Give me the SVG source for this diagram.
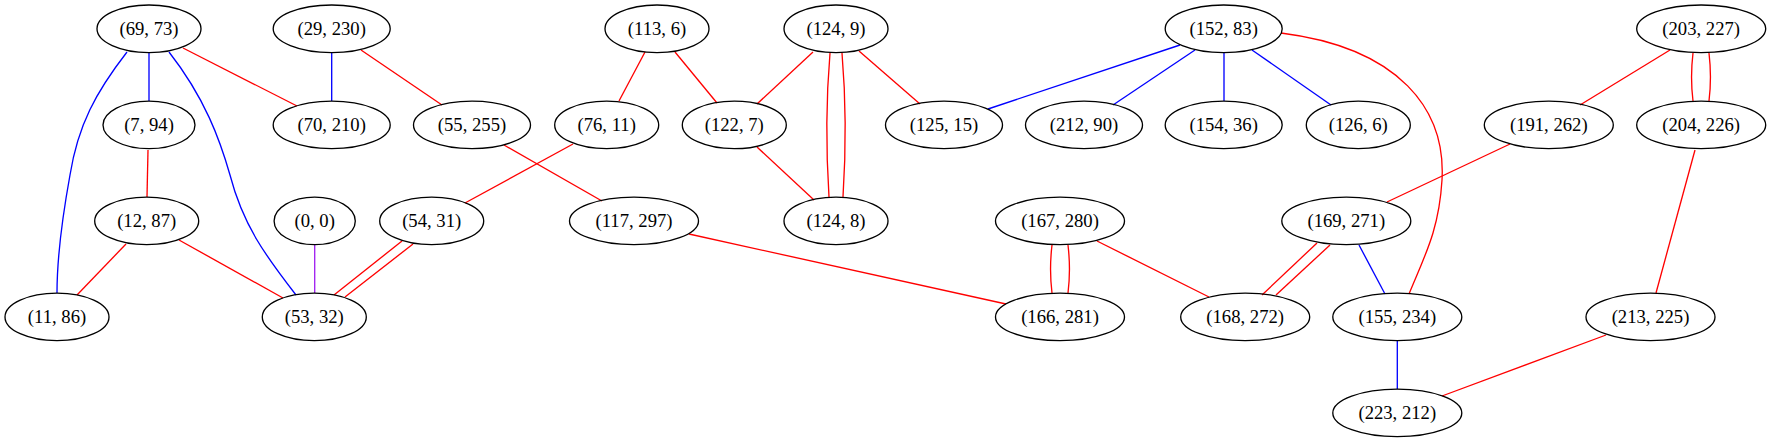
<svg xmlns="http://www.w3.org/2000/svg" width="1771" height="443" viewBox="0 0 1771 443">
<style>
.n ellipse{fill:none;stroke:#000;stroke-width:1.33}
.n text{font-family:"Liberation Serif","Times New Roman",serif;font-size:18.67px;text-anchor:middle;fill:#000}
#edges path{fill:none;stroke-width:1.33}
.r{stroke:#ff0000}.b{stroke:#0000ff}.p{stroke:#a020f0}
</style>
<rect width="1771" height="443" fill="#fff"/>
<g id="edges">
<path class="b" d="M127,52 C96,92 78,125 70,175 C60,230 57,265 57,293"/>
<path class="b" d="M149,53 L149,101"/>
<path class="b" d="M169,52 C205,98 220,140 230,175 C243,225 265,255 296,295"/>
<path class="r" d="M183,48 L297,106"/>
<path class="b" d="M331.7,53 L331.7,101"/>
<path class="r" d="M361,50 L442,105"/>
<path class="r" d="M148,150 L147,197"/>
<path class="r" d="M126,244 L77,295"/>
<path class="r" d="M179,240 L283,298"/>
<path class="p" d="M314.7,245 L314.7,293"/>
<path class="r" d="M573,144 L465,203"/>
<path class="r" d="M402,241 L334,295"/>
<path class="r" d="M413,244 L345,297"/>
<path class="r" d="M504,145 L602,201"/>
<path class="r" d="M645,52 L619,101"/>
<path class="r" d="M675,52 L717,103"/>
<path class="r" d="M813,52 L757,104"/>
<path class="r" d="M830,53 C826,100 826,150 829,197"/>
<path class="r" d="M842,53 C846,100 846,150 843,197"/>
<path class="r" d="M859,51 L920,104"/>
<path class="r" d="M757,147 L814,200"/>
<path class="r" d="M689,234 L1006,304"/>
<path class="b" d="M1180,45 L988,109"/>
<path class="b" d="M1195,50 L1113,105"/>
<path class="b" d="M1224,53 L1224,101"/>
<path class="b" d="M1252,50 L1331,105"/>
<path class="r" d="M1281,33 C1400,48 1446,110 1442,180 C1439,230 1425,255 1409,294"/>
<path class="r" d="M1052,245 C1050,262 1050,277 1052,293"/>
<path class="r" d="M1068,245 C1070,262 1070,277 1068,293"/>
<path class="r" d="M1097,241 L1209,297"/>
<path class="r" d="M1670,50 L1580,105"/>
<path class="r" d="M1693,53 C1691,70 1691,85 1693,101"/>
<path class="r" d="M1709,53 C1711,70 1711,85 1709,101"/>
<path class="r" d="M1510,144 L1387,202"/>
<path class="r" d="M1317,243 L1262,295"/>
<path class="r" d="M1330,245 L1276,295"/>
<path class="b" d="M1359,245 L1385,294"/>
<path class="r" d="M1695,150 L1656,293"/>
<path class="b" d="M1397.3,341 L1397.3,389"/>
<path class="r" d="M1606,335 L1442,396"/>
</g>
<g id="n69_73" class="n"><ellipse cx="149" cy="28.8" rx="52" ry="23.8"/><text x="149" y="35">(69, 73)</text></g>
<g id="n29_230" class="n"><ellipse cx="331.7" cy="28.8" rx="58.5" ry="23.8"/><text x="331.7" y="35">(29, 230)</text></g>
<g id="n113_6" class="n"><ellipse cx="657" cy="28.8" rx="52" ry="23.8"/><text x="657" y="35">(113, 6)</text></g>
<g id="n124_9" class="n"><ellipse cx="836" cy="28.8" rx="52" ry="23.8"/><text x="836" y="35">(124, 9)</text></g>
<g id="n152_83" class="n"><ellipse cx="1223.7" cy="28.8" rx="58.5" ry="23.8"/><text x="1223.7" y="35">(152, 83)</text></g>
<g id="n203_227" class="n"><ellipse cx="1701.2" cy="28.8" rx="64.5" ry="23.8"/><text x="1701.2" y="35">(203, 227)</text></g>
<g id="n7_94" class="n"><ellipse cx="149" cy="124.9" rx="46" ry="23.8"/><text x="149" y="131">(7, 94)</text></g>
<g id="n70_210" class="n"><ellipse cx="331.7" cy="124.9" rx="58.5" ry="23.8"/><text x="331.7" y="131">(70, 210)</text></g>
<g id="n55_255" class="n"><ellipse cx="472" cy="124.9" rx="58.5" ry="23.8"/><text x="472" y="131">(55, 255)</text></g>
<g id="n76_11" class="n"><ellipse cx="606.7" cy="124.9" rx="52" ry="23.8"/><text x="606.7" y="131">(76, 11)</text></g>
<g id="n122_7" class="n"><ellipse cx="734.3" cy="124.9" rx="52" ry="23.8"/><text x="734.3" y="131">(122, 7)</text></g>
<g id="n125_15" class="n"><ellipse cx="944" cy="124.9" rx="58.5" ry="23.8"/><text x="944" y="131">(125, 15)</text></g>
<g id="n212_90" class="n"><ellipse cx="1084" cy="124.9" rx="58.5" ry="23.8"/><text x="1084" y="131">(212, 90)</text></g>
<g id="n154_36" class="n"><ellipse cx="1223.7" cy="124.9" rx="58.5" ry="23.8"/><text x="1223.7" y="131">(154, 36)</text></g>
<g id="n126_6" class="n"><ellipse cx="1358.3" cy="124.9" rx="52" ry="23.8"/><text x="1358.3" y="131">(126, 6)</text></g>
<g id="n191_262" class="n"><ellipse cx="1548.8" cy="124.9" rx="64.5" ry="23.8"/><text x="1548.8" y="131">(191, 262)</text></g>
<g id="n204_226" class="n"><ellipse cx="1701.2" cy="124.9" rx="64.5" ry="23.8"/><text x="1701.2" y="131">(204, 226)</text></g>
<g id="n12_87" class="n"><ellipse cx="146.7" cy="220.9" rx="52" ry="23.8"/><text x="146.7" y="227">(12, 87)</text></g>
<g id="n0_0" class="n"><ellipse cx="314.7" cy="220.9" rx="40.6" ry="23.8"/><text x="314.7" y="227">(0, 0)</text></g>
<g id="n54_31" class="n"><ellipse cx="431.7" cy="220.9" rx="52" ry="23.8"/><text x="431.7" y="227">(54, 31)</text></g>
<g id="n117_297" class="n"><ellipse cx="634" cy="220.9" rx="64.5" ry="23.8"/><text x="634" y="227">(117, 297)</text></g>
<g id="n124_8" class="n"><ellipse cx="836" cy="220.9" rx="52" ry="23.8"/><text x="836" y="227">(124, 8)</text></g>
<g id="n167_280" class="n"><ellipse cx="1060" cy="220.9" rx="64.5" ry="23.8"/><text x="1060" y="227">(167, 280)</text></g>
<g id="n169_271" class="n"><ellipse cx="1346.3" cy="220.9" rx="64.5" ry="23.8"/><text x="1346.3" y="227">(169, 271)</text></g>
<g id="n11_86" class="n"><ellipse cx="57" cy="316.9" rx="52" ry="23.8"/><text x="57" y="323">(11, 86)</text></g>
<g id="n53_32" class="n"><ellipse cx="314.3" cy="316.9" rx="52" ry="23.8"/><text x="314.3" y="323">(53, 32)</text></g>
<g id="n166_281" class="n"><ellipse cx="1060" cy="316.9" rx="64.5" ry="23.8"/><text x="1060" y="323">(166, 281)</text></g>
<g id="n168_272" class="n"><ellipse cx="1245.2" cy="316.9" rx="64.5" ry="23.8"/><text x="1245.2" y="323">(168, 272)</text></g>
<g id="n155_234" class="n"><ellipse cx="1397.3" cy="316.9" rx="64.5" ry="23.8"/><text x="1397.3" y="323">(155, 234)</text></g>
<g id="n213_225" class="n"><ellipse cx="1650.5" cy="316.9" rx="64.5" ry="23.8"/><text x="1650.5" y="323">(213, 225)</text></g>
<g id="n223_212" class="n"><ellipse cx="1397.3" cy="412.9" rx="64.5" ry="23.8"/><text x="1397.3" y="419">(223, 212)</text></g>
</svg>
